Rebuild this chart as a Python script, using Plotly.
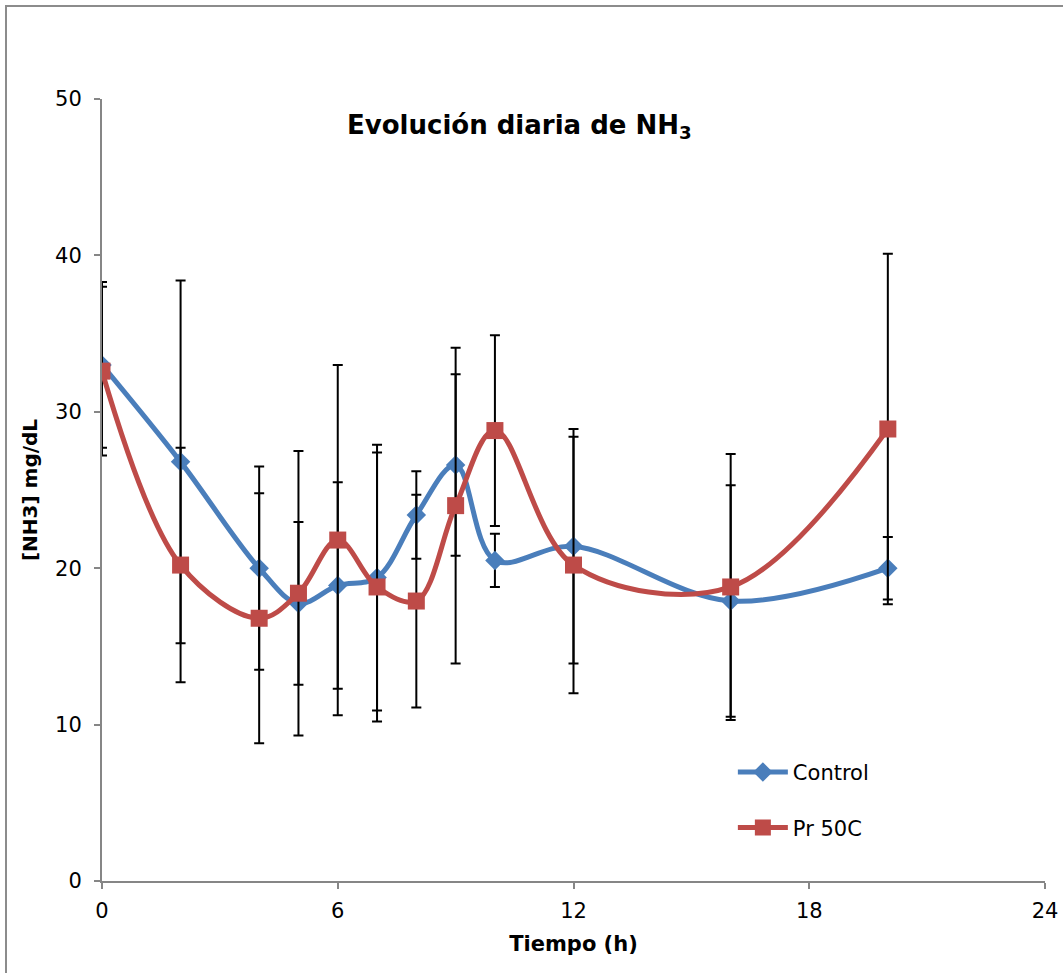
import plotly.graph_objects as go

hours = [0, 2, 4, 5, 6, 7, 8, 9, 10, 12, 16, 20]
control = [33.0, 26.8, 20.0, 17.75, 18.9, 19.4, 23.4, 26.6, 20.5, 21.4, 17.9, 20.0]
control_err = [5.3, 11.6, 6.5, 5.2, 6.6, 8.5, 2.8, 5.8, 1.7, 7.5, 7.4, 2.0]
pr50c = [32.6, 20.2, 16.8, 18.4, 21.8, 18.8, 17.9, 24.0, 28.8, 20.2, 18.8, 28.9]
pr50c_err = [5.4, 7.5, 8.0, 9.1, 11.2, 8.6, 6.8, 10.1, 6.1, 8.2, 8.5, 11.2]

x_ticks = [0, 6, 12, 18, 24]
y_ticks = [0, 10, 20, 30, 40, 50]

FONT = "Verdana, DejaVu Sans, sans-serif"
BLUE = "#4a7ebb"
RED = "#be4b48"

fig = go.Figure()
fig.add_trace(go.Scatter(
    x=hours, y=control, name="Control", mode="lines+markers",
    legendgroup="a",
    line=dict(color=BLUE, width=5, shape="spline", smoothing=1),
    marker=dict(symbol="diamond", size=15, color=BLUE),
    error_y=dict(type="data", array=control_err, visible=True,
                 color="black", thickness=2, width=5),
))
fig.add_trace(go.Scatter(
    x=hours, y=pr50c, name="Pr 50C", mode="lines+markers",
    legendgroup="b",
    line=dict(color=RED, width=5, shape="spline", smoothing=1),
    marker=dict(symbol="square", size=17, color=RED),
    error_y=dict(type="data", array=pr50c_err, visible=True,
                 color="black", thickness=2, width=5),
))

fig.update_layout(
    width=1063, height=973,
    margin=dict(l=102, r=18, t=99, b=92),
    paper_bgcolor="white", plot_bgcolor="white",
    font=dict(family=FONT, size=19, color="black"),
    showlegend=True,
    legend=dict(x=0.669, y=0.165, xanchor="left", yanchor="top",
                font=dict(size=21, family=FONT), tracegroupgap=25,
                bgcolor="rgba(0,0,0,0)", itemwidth=50),
    xaxis=dict(range=[0, 24], tickvals=x_ticks, showgrid=False, zeroline=False,
               automargin=False,
               showline=True, linecolor="#868686", linewidth=2,
               ticks="outside", ticklen=6, tickcolor="#868686", tickwidth=2,
               ticklabelstandoff=4, tickfont=dict(size=21, family=FONT),
               title=dict(text="<b>Tiempo (h)</b>", font=dict(size=21), standoff=14)),
    yaxis=dict(range=[0, 50], tickvals=y_ticks, showgrid=False, zeroline=False,
               automargin=False,
               showline=True, linecolor="#868686", linewidth=2,
               ticks="outside", ticklen=6, tickcolor="#868686", tickwidth=2,
               ticklabelstandoff=8, tickfont=dict(size=21, family=FONT),
               title=dict(text="<b>[NH3] mg/dL</b>", font=dict(size=20), standoff=12)),
    annotations=[dict(
        text="<b>Evolución diaria de NH<sub>3</sub></b>",
        xref="paper", yref="paper", x=0.443, y=0.965,
        xanchor="center", yanchor="middle", showarrow=False,
        font=dict(size=26, family=FONT, color="black"))],
    shapes=[dict(type="rect", xref="paper", yref="paper",
                 x0=-0.1018, y0=-0.2, x1=1.1, y1=1.119,
                 line=dict(color="#8c8c8c", width=2), layer="below")],
)

fig.write_html("out.html")
